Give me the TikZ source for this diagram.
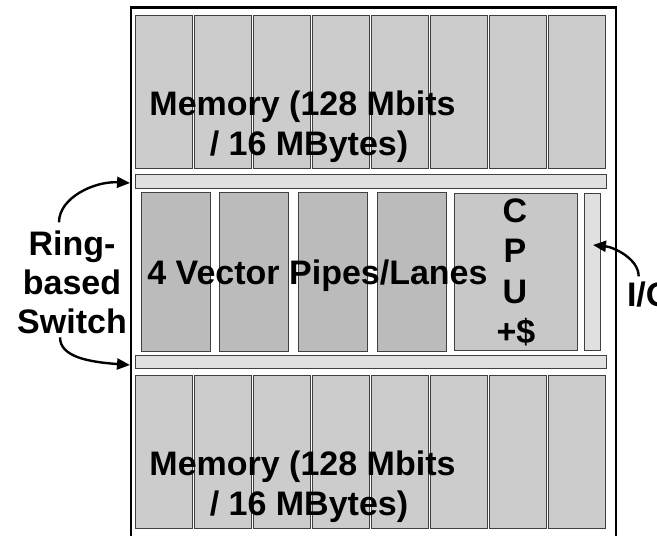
\documentclass[tikz,border=0pt]{standalone}
\usepackage{fontspec}
\setmainfont{Liberation Sans}
\usetikzlibrary{arrows.meta}
\definecolor{memgray}{HTML}{CCCCCC}
\definecolor{lanegray}{HTML}{BBBBBB}
\definecolor{cpugray}{HTML}{C8C8C8}
\definecolor{bargray}{HTML}{E0E0E0}
\begin{document}
\begin{tikzpicture}[x=1pt,y=-1pt,
  box/.style={draw=black!75, line width=0.9pt, inner sep=0pt, outer sep=0pt, anchor=north west},
  membox/.style={box, fill=memgray, minimum width=57pt, minimum height=153pt},
  lanebox/.style={box, fill=lanegray, minimum width=69pt, minimum height=159pt},
  barbox/.style={box, fill=bargray},
  lbl/.style={font=\fontsize{34}{40}\selectfont\bfseries, inner sep=0pt, outer sep=0pt, anchor=base},
  arr/.style={line width=2.4pt, -{Triangle[length=13pt,width=11pt]}}]
\useasboundingbox (0,0) rectangle (657,536);
\clip (0,0) rectangle (657,536);
% memory banks
\foreach \i in {0,...,7} {
  \node[membox] (mt\i) at ({135+59.1*\i},15) {};
  \node[membox] (mb\i) at ({135+59.1*\i},375) {};
}
% switch bars
\node[barbox, minimum width=471pt, minimum height=14pt] (topbar) at (135,174) {};
\node[barbox, minimum width=471pt, minimum height=13pt] (botbar) at (135,355) {};
% lanes
\node[lanebox] (lane1) at (141,192) {};
\node[lanebox] (lane2) at (219,192) {};
\node[lanebox] (lane3) at (298,192) {};
\node[lanebox] (lane4) at (377,192) {};
% CPU and I/O
\node[box, fill=cpugray, minimum width=123pt, minimum height=157pt] (cpu) at (454,193) {};
\node[barbox, minimum width=16pt, minimum height=157pt] (iobar) at (584,193) {};
% outer frame
\draw[line width=2.5pt] (131,7.5) rectangle (616,560);
% labels
\node[lbl] (memt1) at (302.5,115) {Memory (128 Mbits};
\node[lbl] (memt2) at (309,155) {/ 16 MBytes)};
\node[lbl] (memb1) at (302.5,475) {Memory (128 Mbits};
\node[lbl] (memb2) at (309,515) {/ 16 MBytes)};
\node[lbl] (lanes) at (317.5,284) {4 Vector Pipes/Lanes};
\node[lbl] (cpuC) at (515,222) {C};
\node[lbl] (cpuP) at (515,262) {P};
\node[lbl] (cpuU) at (515,303) {U};
\node[lbl] (cpuS) at (516,343) {+\$};
\node[lbl] (ring) at (72,255) {Ring-};
\node[lbl] (based) at (72,294) {based};
\node[lbl] (switch) at (72,333) {Switch};
\node[lbl, anchor=base west] (io) at (627,306) {I/O};
% arrows
\draw[arr] ([shift={(-13,-8)}]ring.north) .. controls +(0,-25) and +(-35,-2) .. ([shift={(-5,2)}]topbar.west);
\draw[arr] ([shift={(-12,4)}]switch.south) .. controls +(0,20) and +(-40,-3) .. ([shift={(-5,3.5)}]botbar.west);
\draw[arr] ([shift={(-11,-5)}]io.north) .. controls +(0,-18) and +(20,2) .. ([shift={(-7,-26.5)}]iobar.east);
\end{tikzpicture}
\end{document}
